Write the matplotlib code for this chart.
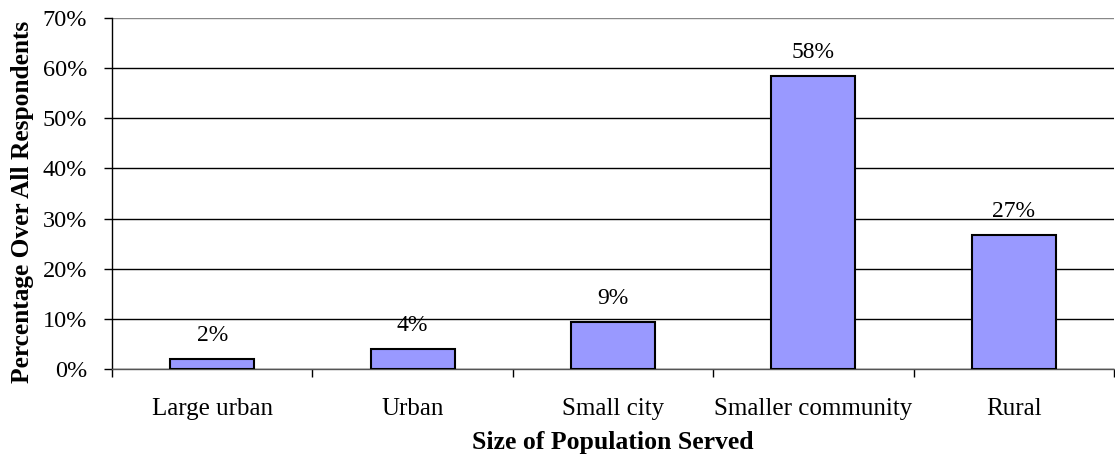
import matplotlib
matplotlib.use("Agg")
import matplotlib.pyplot as plt
from matplotlib.ticker import PercentFormatter

# ── data ─────────────────────────────────────────────────────────────────────
categories = ["Large urban", "Urban", "Small city", "Smaller community", "Rural"]
values = [1.9, 3.9, 9.3, 58.4, 26.7]          # percent
labels = ["2%", "4%", "9%", "58%", "27%"]
y_ticks = [0, 10, 20, 30, 40, 50, 60, 70]

plt.rcParams["font.family"] = ["Liberation Serif", "DejaVu Serif"]

fig = plt.figure(figsize=(11.15, 4.65), dpi=100)
ax = fig.add_axes([112 / 1115, 96 / 465, 1002 / 1115, 351 / 465])

x = range(len(categories))
ax.bar(x, values, width=0.42, color="#9999FF", edgecolor="black", linewidth=1.5, zorder=3)

for xi, v, lab in zip(x, values, labels):
    ax.annotate(lab, (xi, v), xytext=(0, 9.5), textcoords="offset points",
                ha="center", va="bottom", fontsize=17)

ax.set_xlim(-0.5, len(categories) - 0.5)
ax.set_ylim(0, 70)
ax.set_yticks(y_ticks)
ax.yaxis.set_major_formatter(PercentFormatter(decimals=0))
ax.set_xticks([i - 0.5 for i in range(len(categories) + 1)], minor=False)
ax.set_xticklabels([])
ax.set_xticks(list(x), minor=True)
ax.set_xticklabels(categories, minor=True)
ax.tick_params(axis="x", which="minor", length=0, pad=21, labelsize=18)
ax.tick_params(axis="x", which="major", length=6, width=1, direction="out")
ax.tick_params(axis="y", length=6, width=1, pad=12, labelsize=17.5, direction="out")

ax.grid(axis="y", color="black", linewidth=1, zorder=0)
for s in ["top", "right"]:
    ax.spines[s].set_visible(False)
ax.spines["left"].set_linewidth(1)
ax.spines["bottom"].set_linewidth(1)
ax.spines["bottom"].set_color("#555555")
ax.get_ygridlines()[-1].set_color("#888888")

ax.set_ylabel("Percentage Over All Respondents", fontsize=18.3, fontweight="bold")
ax.yaxis.set_label_coords(-0.078, 0.476)
ax.set_xlabel("Size of Population Served", fontsize=18.5, fontweight="bold", labelpad=8)

fig.savefig("out.png", dpi=100)
